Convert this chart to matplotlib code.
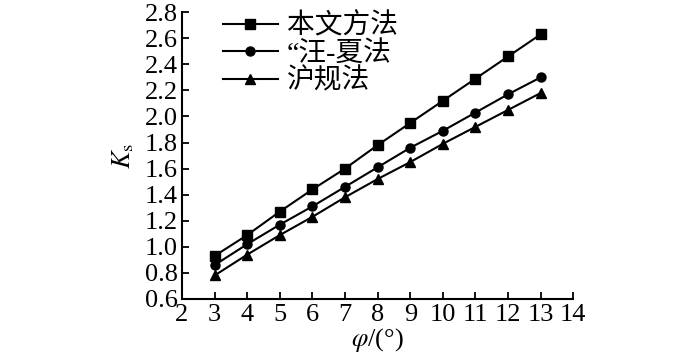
import matplotlib
matplotlib.use("Agg")
import matplotlib.pyplot as plt

phi = [3, 4, 5, 6, 7, 8, 9, 10, 11, 12, 13]
ours = [0.93, 1.09, 1.27, 1.44, 1.60, 1.78, 1.95, 2.12, 2.29, 2.46, 2.63]
wangxia = [0.86, 1.02, 1.17, 1.31, 1.46, 1.61, 1.76, 1.89, 2.03, 2.17, 2.30]
hugui = [0.78, 0.94, 1.09, 1.23, 1.38, 1.52, 1.65, 1.79, 1.92, 2.05, 2.18]
labels = ["本文方法", "“汪-夏法", "沪规法"]
xticks = list(range(2, 15))
yticks = [0.6, 0.8, 1.0, 1.2, 1.4, 1.6, 1.8, 2.0, 2.2, 2.4, 2.6, 2.8]

plt.rcParams['font.family'] = ['Liberation Serif', 'Noto Sans CJK SC']
plt.rcParams['mathtext.fontset'] = 'stix'

fig = plt.figure(figsize=(7, 3.58), dpi=100)
ax = fig.add_axes([0.26, 0.165, 0.559, 0.801])
ax.plot(phi, ours, '-s', color='black', lw=1.5, ms=6.5, label=labels[0])
ax.plot(phi, wangxia, '-o', color='black', lw=1.5, ms=6.5, label=labels[1])
ax.plot(phi, hugui, '-^', color='black', lw=1.5, ms=6.5, label=labels[2])

ax.set_xlim(2, 14)
ax.set_ylim(0.6, 2.8)
ax.set_xticks(xticks)
ax.set_yticks(yticks)
ax.set_yticklabels([f"{v:.1f}" for v in yticks])
ax.tick_params(direction='in', labelsize=19, width=1.3, length=5)
ax.tick_params(axis='y', pad=3)
ax.tick_params(axis='x', pad=4)
ax.spines['top'].set_visible(False)
ax.spines['right'].set_visible(False)
for s in ['left', 'bottom']:
    ax.spines[s].set_linewidth(1.5)
ax.set_xlabel(r'$\varphi$/(°)', fontsize=19, labelpad=0)
ax.set_ylabel(r'$K_{\rm s}$', fontsize=19, labelpad=6)
leg = ax.legend(loc='upper left', bbox_to_anchor=(0.04, 1.085), frameon=False,
                fontsize=20, handlelength=2.0, labelspacing=0.05, handletextpad=0.3)
fig.savefig('out.png', dpi=100)
